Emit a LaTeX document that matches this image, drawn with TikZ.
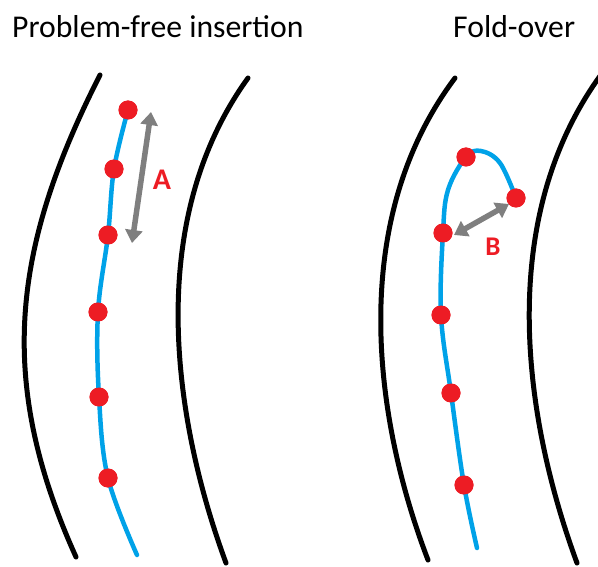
\documentclass[tikz,border=0pt]{standalone}
\usepackage{fontspec}
\setmainfont{Carlito}
\usetikzlibrary{arrows.meta}
\definecolor{pred}{HTML}{ED1C24}
\definecolor{pblue}{HTML}{00A2E8}
\definecolor{pgray}{HTML}{7F7F7F}
\tikzset{
  wall/.style={line width=5pt, black, line cap=round},
  wire/.style={line width=4.5pt, pblue, line cap=round},
  dot/.style={circle, fill=pred, inner sep=0pt, minimum size=19pt},
  gap/.style={line width=5.5pt, pgray, {Triangle[width=17pt,length=13pt]}-{Triangle[width=17pt,length=13pt]}},
  lbl/.style={text=pred, font=\fontsize{30}{36}\selectfont\bfseries},
  title/.style={anchor=base west, inner sep=0pt, font=\fontsize{31.7}{38}\selectfont}
}
\begin{document}
\begin{tikzpicture}[x=1pt,y=-1pt]
\useasboundingbox (0,0) rectangle (598,567);
% titles
\node[title] (t1) at (12,38) {Problem-free insertion};
\node[title] (t2) at (453,38) {Fold-over};
% walls
\draw[wall] (100,75) .. controls (11,250) and (-3,382) .. (76,557);
\draw[wall] (248,78) .. controls (144,222) and (173,419) .. (226,563);
\draw[wall] (455,78) .. controls (347,222) and (374,419) .. (428,560);
\draw[wall] (600,76) .. controls (495,222) and (524,419) .. (577,563);
% left wire
\coordinate (le) at (137,555);
\node[dot] (a1) at (128,110) {};
\node[dot] (a2) at (114,169) {};
\node[dot] (a3) at (108,235) {};
\node[dot] (a4) at (98,312) {};
\node[dot] (a5) at (99,397) {};
\node[dot] (a6) at (108,478) {};
\draw[wire] plot[smooth, tension=0.6] coordinates {(le) (a6) (a5) (a4) (a3) (a2) (a1)};
\foreach \n in {a1,a2,a3,a4,a5,a6} \fill[pred] (\n) circle (9.5pt);
% right wire
\coordinate (re) at (477,548);
\coordinate (rapex) at (481,151);
\coordinate (rmid) at (448,190);
\node[dot] (b1) at (466,157) {};
\node[dot] (b2) at (516,198) {};
\node[dot] (b3) at (443,233) {};
\node[dot] (b4) at (441,315) {};
\node[dot] (b5) at (451,393) {};
\node[dot] (b6) at (464,485) {};
\draw[wire] plot[smooth, tension=0.6] coordinates {(re) (b6) (b5) (b4) (b3) (rmid) (b1) (rapex) (500,163) (b2)};
\foreach \n in {b1,b2,b3,b4,b5,b6} \fill[pred] (\n) circle (9.5pt);
% gap arrows
\coordinate (ga1) at (151,112);
\coordinate (ga2) at (132,243);
\draw[gap] (ga1) -- (ga2);
\node[lbl] (A) at (162,180) {A};
\coordinate (gb1) at (454,235);
\coordinate (gb2) at (509,204);
\draw[gap] (gb1) -- (gb2);
\node[lbl, font=\fontsize{27}{32}\selectfont\bfseries] (B) at (493,247) {B};
\end{tikzpicture}
\end{document}
